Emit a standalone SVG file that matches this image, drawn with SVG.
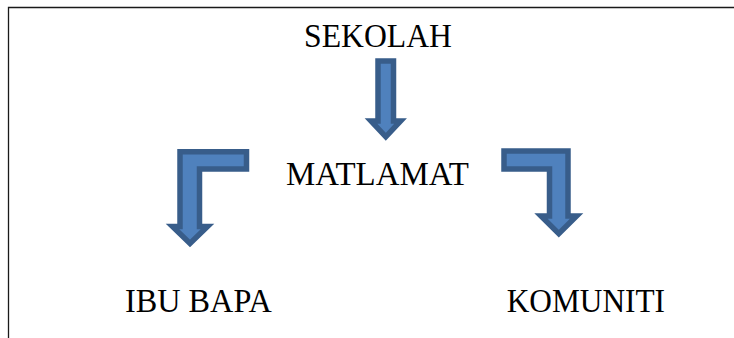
<svg xmlns="http://www.w3.org/2000/svg" width="734" height="338" viewBox="0 0 734 338">
  <style>
    .lbl { font-family: "Liberation Serif", "Times New Roman", serif; font-size: 33px; fill: #000; }
    .arrow { fill: #4F81BD; stroke: #385D8A; stroke-width: 5.5; stroke-linejoin: miter; }
    .frame { fill: none; stroke: #1a1a1a; stroke-width: 1.3; }
  </style>
  <rect x="0" y="0" width="734" height="338" fill="#ffffff"/>
  <path class="frame" d="M8.5,338 V7.5 H734"/>
  <g id="node-sekolah">
    <text class="lbl" x="304" y="47" textLength="148" lengthAdjust="spacingAndGlyphs">SEKOLAH</text>
  </g>
  <g id="node-matlamat">
    <text class="lbl" x="286" y="184.5" textLength="183" lengthAdjust="spacingAndGlyphs">MATLAMAT</text>
  </g>
  <g id="node-ibubapa">
    <text class="lbl" x="125" y="311.7" textLength="146.7" lengthAdjust="spacingAndGlyphs">IBU BAPA</text>
  </g>
  <g id="node-komuniti">
    <text class="lbl" x="506.7" y="311.7" textLength="158.3" lengthAdjust="spacingAndGlyphs">KOMUNITI</text>
  </g>
  <g id="connectors">
    <polygon class="arrow" points="378,61 393.5,61 393.5,121 400.6,121 385.8,136.8 371,121 378,121"/>
    <polygon class="arrow" points="180,151.75 246.5,151.75 246.5,169 199.5,169 199.5,226.5 207.5,226.5 190,243.5 172.5,226.5 180,226.5"/>
    <polygon class="arrow" points="504,151 568,151 568,216 576.6,216 558.8,233.6 541,216 549.5,216 549.5,169 504,169"/>
  </g>
</svg>
